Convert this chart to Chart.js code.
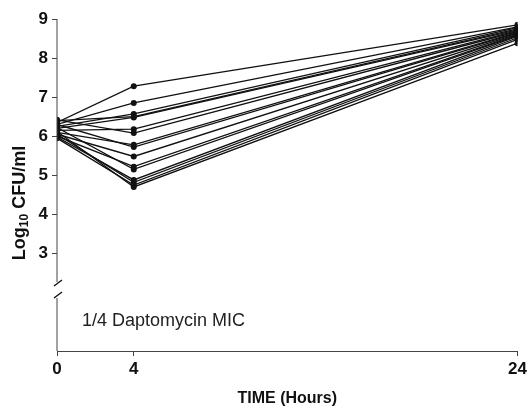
<!DOCTYPE html>
<html>
<head>
<meta charset="utf-8">
<script src="https://cdn.jsdelivr.net/npm/chart.js@4/dist/chart.umd.min.js"></script>
<style>
  html, body { margin: 0; padding: 0; background: #fff; }
  #wrap { width: 530px; height: 408px; }
</style>
</head>
<body>
<div id="wrap"><canvas id="growth"></canvas></div>
<script>
// sampling times (hours)
const hours = [0, 4, 24]
// log10 CFU/ml for each isolate at 0, 4 and 24 h
const cfu0h  = [6.35, 6.30, 6.25, 6.40, 6.20, 6.15, 6.42, 6.10, 6.30, 6.05, 6.00, 6.22, 5.98, 6.05, 5.95, 6.12]
const cfu4h  = [7.28, 6.85, 6.57, 6.50, 6.48, 6.18, 6.08, 5.78, 5.72, 5.48, 5.22, 5.15, 4.88, 4.82, 4.75, 4.70]
const cfu24h = [8.85, 8.80, 8.78, 8.75, 8.72, 8.70, 8.68, 8.66, 8.64, 8.62, 8.60, 8.58, 8.56, 8.52, 8.48, 8.38]
const yTicks = [3, 4, 5, 6, 7, 8, 9]
const xTicks = [0, 4, 24]
const panelLabel = '1/4 Daptomycin MIC'

const FONT = '"Liberation Sans", Arial, sans-serif'

let datasets = []
for (let i = 0; i < cfu0h.length; i++) {
    datasets.push({
        data: [
            {x: hours[0], y: cfu0h[i]},
            {x: hours[1], y: cfu4h[i]},
            {x: hours[2], y: cfu24h[i]}
        ],
        borderColor: '#111',
        backgroundColor: '#111',
        borderWidth: 1.3,
        pointRadius: 3,
        pointBorderWidth: 0,
        tension: 0
    })
}

// y axis line with a break, the y title with a subscript and the panel label
const decorations = {
    id: 'decorations',
    afterDraw(chart) {
        const ctx = chart.ctx
        const y = chart.scales.y
        const area = chart.chartArea
        const x0 = area.left
        const breakTop = 282
        const breakBottom = 294
        ctx.save()
        ctx.strokeStyle = '#444'
        ctx.lineWidth = 1
        ctx.beginPath()
        ctx.moveTo(x0, y.getPixelForValue(9))
        ctx.lineTo(x0, breakTop)
        ctx.moveTo(x0, breakBottom + 4)
        ctx.lineTo(x0, area.bottom)
        ctx.stroke()
        // break marks
        ctx.strokeStyle = '#111'
        ctx.lineWidth = 1.4
        ctx.beginPath()
        ctx.moveTo(x0 - 3, breakTop + 4)
        ctx.lineTo(x0 + 5, breakTop - 2)
        ctx.moveTo(x0 - 3, breakBottom + 4)
        ctx.lineTo(x0 + 5, breakBottom - 2)
        ctx.stroke()

        // y title
        ctx.fillStyle = '#111'
        ctx.translate(20, 203)
        ctx.rotate(-Math.PI / 2)
        ctx.textBaseline = 'middle'
        const big = 'bold 18px ' + FONT
        const small = 'bold 12px ' + FONT
        ctx.font = big
        const w1 = ctx.measureText('Log').width
        const w3 = ctx.measureText(' CFU/ml').width
        ctx.font = small
        const w2 = ctx.measureText('10').width
        let sx = -(w1 + w2 + w3) / 2
        ctx.font = big
        ctx.fillText('Log', sx, 0)
        ctx.font = small
        ctx.fillText('10', sx + w1, 5)
        ctx.font = big
        ctx.fillText(' CFU/ml', sx + w1 + w2, 0)
        ctx.restore()

        ctx.save()
        ctx.fillStyle = '#222'
        ctx.font = '18px ' + FONT
        ctx.textBaseline = 'middle'
        ctx.fillText(panelLabel, 82, 321)
        ctx.restore()
    }
}

const config = {
    type: 'line',
    data: {datasets: datasets},
    options: {
        responsive: true,
        maintainAspectRatio: false,
        animation: false,
        layout: {padding: {top: 19, right: 11, bottom: 0, left: 0}},
        plugins: {legend: {display: false}, tooltip: {enabled: false}},
        scales: {
            x: {
                type: 'linear',
                min: 0,
                max: 24,
                afterBuildTicks: axis => { axis.ticks = xTicks.map(v => ({value: v})) },
                afterFit: axis => { axis.height = 57 },
                border: {display: true, color: '#444', width: 1},
                grid: {drawOnChartArea: false, drawTicks: true, tickLength: 5, color: '#444'},
                ticks: {color: '#111', font: {family: FONT, size: 17, weight: 'bold'}, padding: 3, maxRotation: 0},
                title: {display: true, text: 'TIME (Hours)', color: '#111',
                        font: {family: FONT, size: 16, weight: 'bold'}, padding: {top: 0, bottom: 0}}
            },
            y: {
                type: 'linear',
                min: 0.5,
                max: 9,
                afterBuildTicks: axis => { axis.ticks = yTicks.map(v => ({value: v})) },
                afterFit: axis => { axis.width = 57 },
                border: {display: false},
                grid: {drawOnChartArea: false, drawTicks: true, tickLength: 5, color: '#444'},
                ticks: {color: '#111', font: {family: FONT, size: 17, weight: 'bold'}, padding: 4}
            }
        }
    },
    plugins: [decorations]
}

new Chart(document.getElementById('growth').getContext('2d'), config)
</script>
</body>
</html>
